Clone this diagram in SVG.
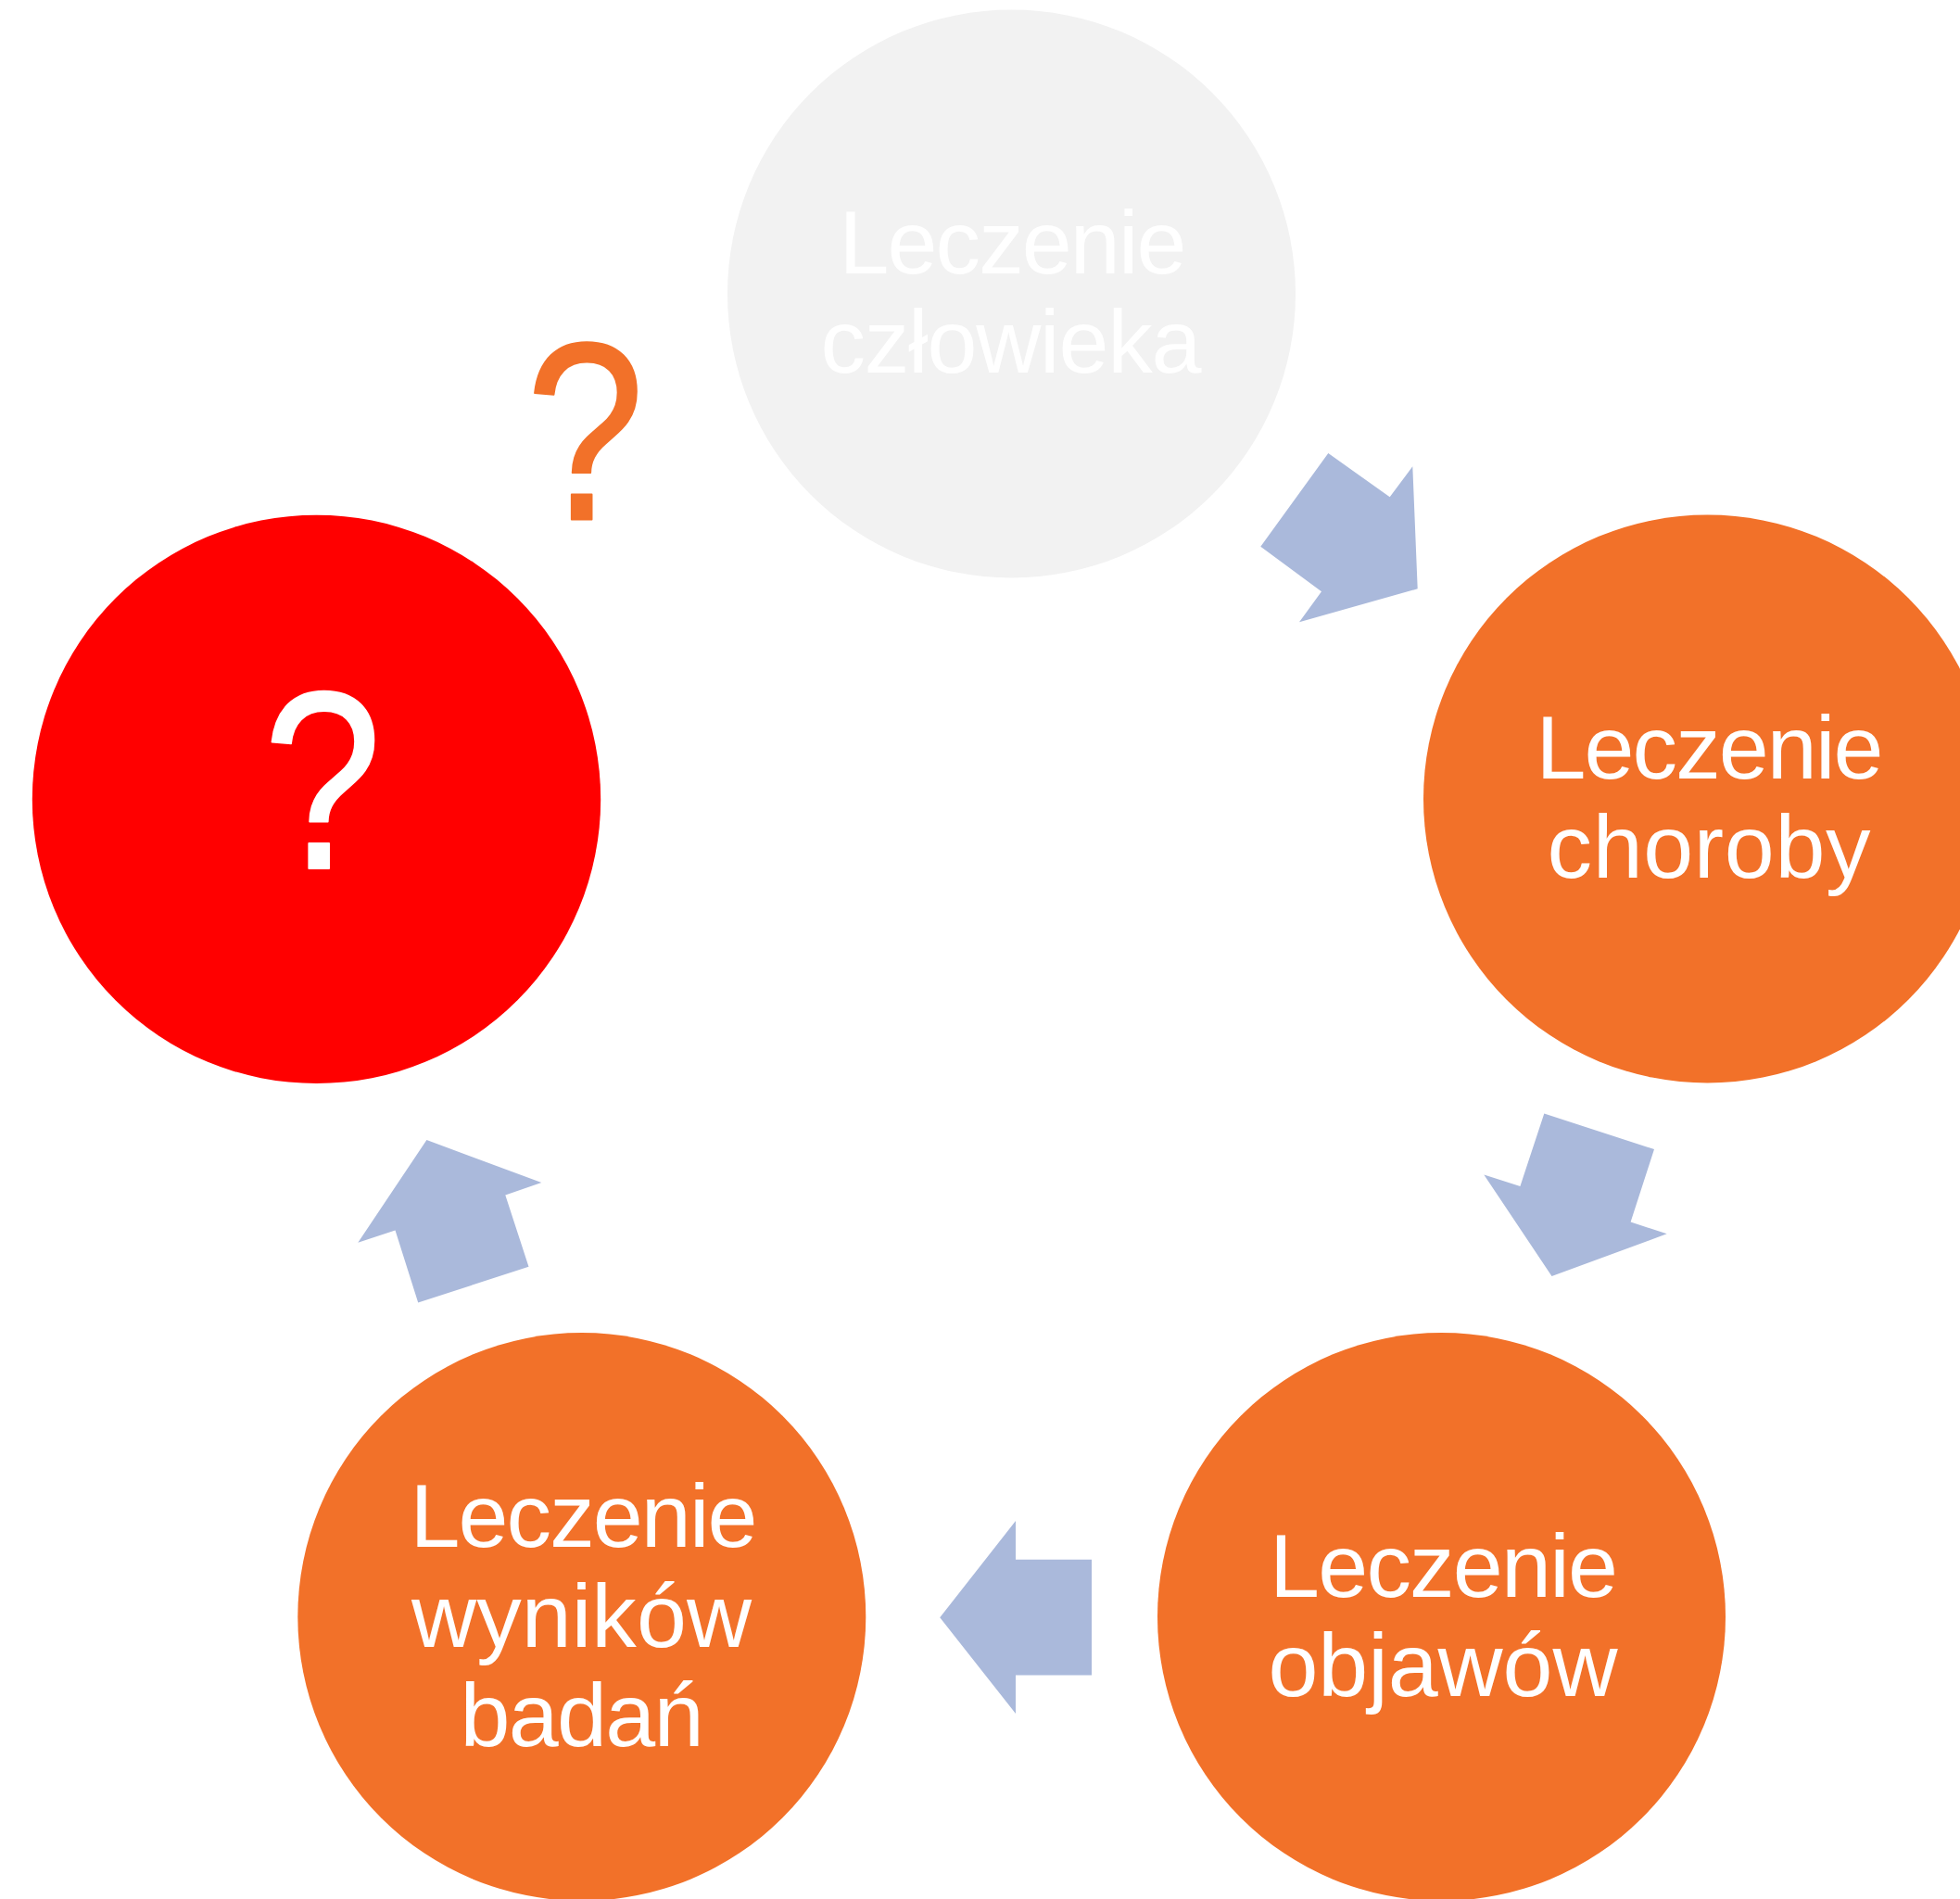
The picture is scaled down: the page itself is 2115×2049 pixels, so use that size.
<svg xmlns="http://www.w3.org/2000/svg" width="2115" height="2049" viewBox="0 0 2115 2049">
<style>
.lbl{font-family:"Liberation Sans",Arial,sans-serif;font-size:97px;fill:#FFFFFF;text-anchor:middle}
.q{font-family:"Liberation Sans",Arial,sans-serif;font-size:274px;text-anchor:middle;stroke-linejoin:round;stroke-width:2}
.orange{fill:#F27129}
.arrow{fill:#AAB9DB}
</style>
<rect x="0" y="0" width="2115" height="2049" fill="#FFFFFF"/>
<g id="connectors">
<polygon class="arrow" points="1433.3,489 1499.7,536.3 1524.3,503.3 1529.7,635.3 1402,671.3 1426,638.3 1360.3,589.7"/>
<polygon class="arrow" points="1666.3,1201.5 1785,1240 1759.6,1318.5 1798.7,1331.3 1674.5,1377 1601.3,1267.5 1640.4,1279.9"/>
<polygon class="arrow" points="1014.2,1745.3 1096,1641.1 1096,1682.7 1178,1682.7 1178,1807.4 1096,1807.4 1096,1848.9"/>
<polygon class="arrow" points="460.4,1230 584.3,1276 545.3,1289.4 570.5,1366.7 451.2,1405.6 426.5,1327.5 386.3,1340.8"/>
</g>
<g id="node-czlowieka">
<circle cx="1091.5" cy="317" r="306.5" fill="#F2F2F2"/>
<text class="lbl" x="1093" y="295" textLength="375" lengthAdjust="spacing">Leczenie</text>
<text class="lbl" x="1091" y="402" textLength="411" lengthAdjust="spacing">człowieka</text>
</g>
<g id="node-choroby">
<circle cx="1842.5" cy="862" r="306.5" class="orange"/>
<text class="lbl" x="1845" y="840" textLength="375" lengthAdjust="spacing">Leczenie</text>
<text class="lbl" x="1844" y="947" textLength="349" lengthAdjust="spacing">choroby</text>
</g>
<g id="node-objawow">
<circle cx="1555.5" cy="1744.5" r="306.5" class="orange"/>
<text class="lbl" x="1558" y="1722.5" textLength="376" lengthAdjust="spacing">Leczenie</text>
<text class="lbl" x="1557" y="1830" textLength="377" lengthAdjust="spacing">objawów</text>
</g>
<g id="node-wynikow">
<circle cx="627.8" cy="1744.5" r="306.5" class="orange"/>
<text class="lbl" x="630" y="1669" textLength="375" lengthAdjust="spacing">Leczenie</text>
<text class="lbl" x="627.5" y="1776.5" textLength="367" lengthAdjust="spacing">wyników</text>
<text class="lbl" x="628" y="1884" textLength="263" lengthAdjust="spacing">badań</text>
</g>
<g id="node-unknown">
<circle cx="341.5" cy="862.4" r="306.7" fill="#FF0000"/>
<text class="q" transform="translate(348,937) scale(0.84,1)" x="0" y="0" fill="#FFFFFF" stroke="#FFFFFF">?</text>
</g>
<g id="question-mark">
<text class="q orange" transform="translate(631.5,560.5) scale(0.84,1)" x="0" y="0" stroke="#F27129">?</text>
</g>
</svg>
